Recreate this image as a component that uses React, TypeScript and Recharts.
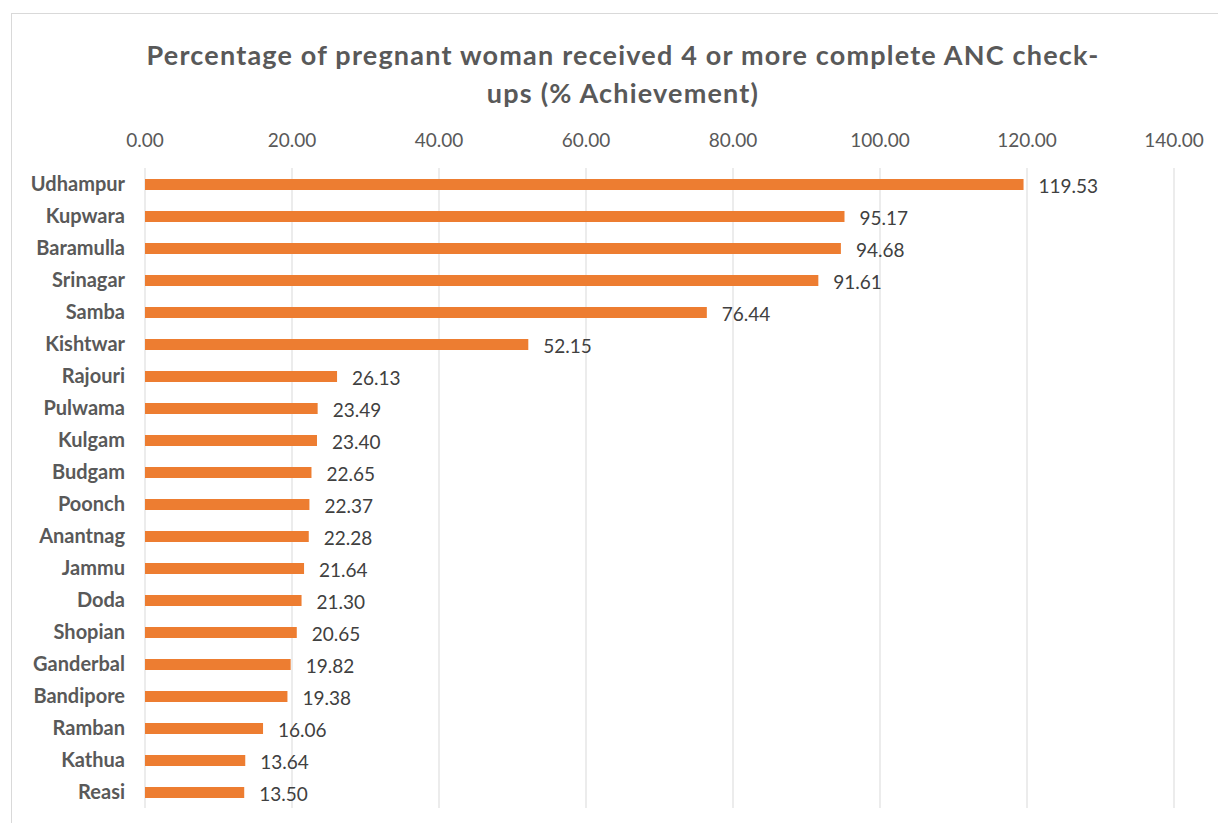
import React from "react";
import {
  BarChart,
  Bar,
  XAxis,
  YAxis,
  CartesianGrid,
  LabelList,
} from "recharts";

const districts = [
  "Udhampur", "Kupwara", "Baramulla", "Srinagar", "Samba", "Kishtwar", "Rajouri",
  "Pulwama", "Kulgam", "Budgam", "Poonch", "Anantnag", "Jammu", "Doda",
  "Shopian", "Ganderbal", "Bandipore", "Ramban", "Kathua", "Reasi",
];

const achievement = [
  119.53, 95.17, 94.68, 91.61, 76.44, 52.15, 26.13,
  23.49, 23.4, 22.65, 22.37, 22.28, 21.64, 21.3,
  20.65, 19.82, 19.38, 16.06, 13.64, 13.5,
];

const xTicks = [0, 20, 40, 60, 80, 100, 120, 140];

const chartData = districts.map((name, i) => ({ name, value: achievement[i] }));

const FONT = "Lato, 'Open Sans', sans-serif";

export default function App() {
  return (
    <div
      style={{
        position: "absolute",
        left: 0,
        top: 0,
        width: 1218,
        height: 823,
        background: "#fff",
        fontFamily: FONT,
        overflow: "hidden",
      }}
    >
      <div
        style={{
          position: "absolute",
          left: 11,
          top: 13,
          width: 1240,
          height: 840,
          border: "1px solid #d9d9d9",
          boxSizing: "border-box",
        }}
      />
      <div
        style={{
          position: "absolute",
          left: 5,
          top: 36,
          width: 1236,
          textAlign: "center",
          fontSize: 27,
          letterSpacing: 1.2,
          fontWeight: 700,
          color: "#595959",
          lineHeight: "38px",
        }}
      >
        Percentage of pregnant woman received 4 or more complete ANC check-
        <br />
        ups (% Achievement)
      </div>
      <div style={{ position: "absolute", left: 0, top: 0 }}>
        <BarChart
          width={1218}
          height={823}
          data={chartData}
          layout="vertical"
          margin={{ top: 0, right: 44, bottom: 15, left: 0 }}
          barCategoryGap={0}
        >
          <CartesianGrid horizontal={false} stroke="#d9d9d9" />
          <XAxis
            type="number"
            orientation="top"
            domain={[0, 140]}
            ticks={xTicks}
            tickFormatter={(v: number) => v.toFixed(2)}
            axisLine={false}
            tickLine={false}
            tickSize={0}
            tickMargin={21}
            height={168}
            tick={{ fill: "#595959", fontSize: 19, fontFamily: FONT }}
            interval={0}
          />
          <YAxis
            type="category"
            dataKey="name"
            width={145}
            axisLine={false}
            tickLine={false}
            tickSize={0}
            tickMargin={20}
            interval={0}
            tick={{ fill: "#595959", fontSize: 20, fontWeight: 700, fontFamily: FONT }}
          />
          <Bar dataKey="value" fill="#ED7D31" barSize={11} isAnimationActive={false}>
            <LabelList
              dataKey="value"
              position="right"
              offset={15}
              formatter={(v: number) => Number(v).toFixed(2)}
              style={{ fill: "#404040", fontSize: 19, fontFamily: FONT, transform: "translateY(2px)" }}
            />
          </Bar>
        </BarChart>
      </div>
    </div>
  );
}
